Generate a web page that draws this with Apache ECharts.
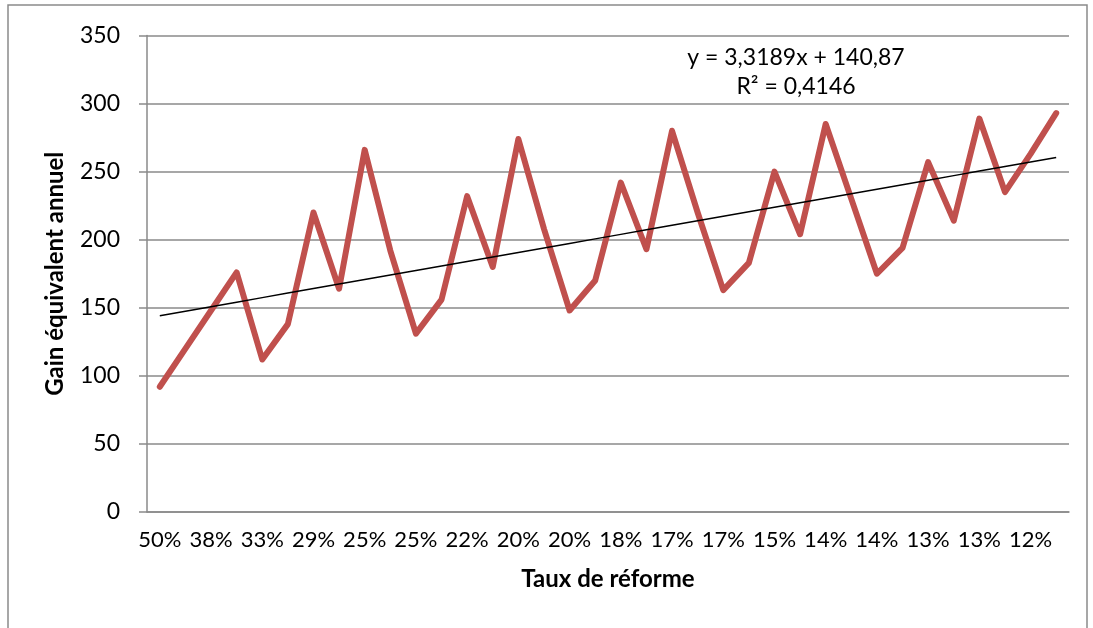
<!DOCTYPE html>
<html>
<head>
<meta charset="utf-8">
<script src="https://cdn.jsdelivr.net/npm/echarts@6/dist/echarts.min.js"></script>
<style>
  html, body { margin: 0; padding: 0; background: #fff; }
  #chart { width: 1093px; height: 628px; }
</style>
</head>
<body>
<div id="chart"></div>
<script>
// taux de réforme (every other label is shown on the axis)
var categories = [
  '50%', '43%', '38%', '36%', '33%', '30%', '29%', '27%', '25%', '25%',
  '25%', '23%', '22%', '21%', '20%', '20%', '20%', '19%', '18%', '18%',
  '17%', '17%', '17%', '16%', '15%', '15%', '14%', '14%', '14%', '13%',
  '13%', '13%', '13%', '12%', '12%', '11%'
]
// gain équivalent annuel
var gains = [
  92, 120, 148, 176, 112, 138, 220, 164, 266, 192,
  131, 156, 232, 180, 274, 208, 148, 170, 242, 193,
  280, 220, 163, 183, 250, 204, 285, 230, 175, 194,
  257, 214, 289, 235, 263, 293
]
var yTicks = [0, 50, 100, 150, 200, 250, 300, 350]
// coefficients de la courbe de tendance (affichés sur le graphique)
var trendSlope = 3.3189
var trendIntercept = 140.87
var trendR2 = 0.4146

var trend = []
for (var i = 0; i < gains.length; i++) {
  trend.push(trendSlope * (i + 1) + trendIntercept)
}

var font = 'Lato, "Open Sans", sans-serif'
var fr = function (v) { return String(v).replace('.', ',') }

var chart = echarts.init(document.getElementById('chart'))
chart.setOption({
  backgroundColor: '#fff',
  animation: false,
  grid: { left: 147, right: 24, top: 35.5, bottom: 116 },
  graphic: [
    {
      type: 'rect',
      shape: { x: 8, y: 5, width: 1079, height: 700 },
      style: { fill: 'none', stroke: '#8a8a8a', lineWidth: 1.5 },
      silent: true
    },
    {
      type: 'text',
      x: 796, y: 43,
      style: {
        text: 'y = ' + fr(trendSlope) + 'x + ' + fr(trendIntercept) + '\nR² = ' + fr(trendR2),
        fill: '#000', font: '23px ' + font, align: 'center', lineHeight: 29
      },
      silent: true
    }
  ],
  xAxis: {
    type: 'category',
    data: categories,
    boundaryGap: true,
    name: 'Taux de réforme',
    nameLocation: 'middle',
    nameGap: 55,
    nameTextStyle: { fontFamily: font, fontSize: 24, fontWeight: 'bold', color: '#000' },
    axisLine: { lineStyle: { color: '#8a8a8a', width: 1.5 } },
    axisTick: { show: false },
    axisLabel: { interval: 1, margin: 17, fontFamily: font, fontSize: 22, color: '#000' },
    splitLine: { show: false }
  },
  yAxis: {
    type: 'value',
    min: yTicks[0],
    max: yTicks[yTicks.length - 1],
    interval: yTicks[1] - yTicks[0],
    name: 'Gain équivalent annuel',
    nameLocation: 'middle',
    nameGap: 80,
    nameTextStyle: { fontFamily: font, fontSize: 24, fontWeight: 'bold', color: '#000' },
    axisLine: { show: true, lineStyle: { color: '#8a8a8a', width: 1.5 } },
    axisTick: { show: true, length: 8, lineStyle: { color: '#8a8a8a', width: 1.5 } },
    axisLabel: { margin: 27, fontFamily: font, fontSize: 23, color: '#000' },
    splitLine: { lineStyle: { color: '#8a8a8a', width: 1.5 } }
  },
  series: [
    {
      type: 'line',
      data: gains,
      showSymbol: false,
      lineStyle: { color: '#C0504D', width: 6, cap: 'round', join: 'round' },
      silent: true
    },
    {
      type: 'line',
      data: trend,
      showSymbol: false,
      lineStyle: { color: '#000', width: 1.5 },
      silent: true
    }
  ]
})
</script>
</body>
</html>
